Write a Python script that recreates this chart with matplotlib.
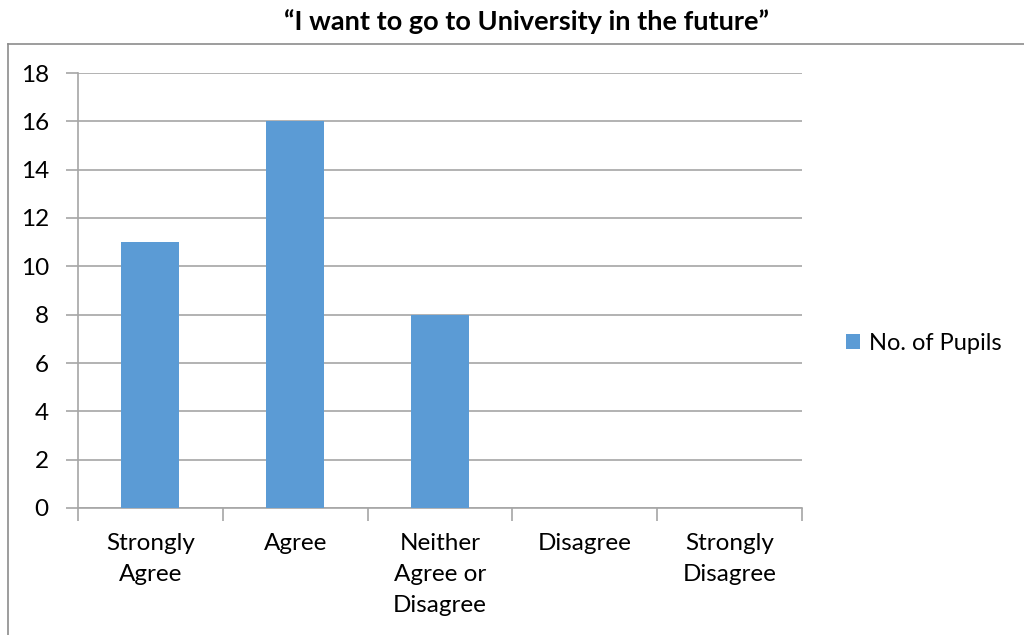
import matplotlib.pyplot as plt
from matplotlib.lines import Line2D
import numpy as np

categories = ["Strongly\nAgree", "Agree", "Neither\nAgree or\nDisagree", "Disagree", "Strongly\nDisagree"]
pupils = [11, 16, 8, 0, 0]
y_ticks = list(range(0, 19, 2))

BAR_COLOR = "#5B9BD5"
GRID_COLOR = "#A6A6A6"
FONT = "Lato"

W, H = 1024, 635
fig = plt.figure(figsize=(W / 100, H / 100), dpi=100)
fig.patch.set_facecolor("white")

# outer chart frame (only left and top edges fall inside the image)
fig.add_artist(Line2D([8 / W, 8 / W], [0, 1 - 44 / H], transform=fig.transFigure, color="#8C8C8C", lw=1.2))
fig.add_artist(Line2D([8 / W, 1], [1 - 44 / H, 1 - 44 / H], transform=fig.transFigure, color="#8C8C8C", lw=1.2))

ax = fig.add_axes([78 / W, 1 - 508 / H, (802 - 78) / W, (508 - 73) / H])
x = np.arange(len(categories))
ax.bar(x, pupils, width=0.4, color=BAR_COLOR, label="No. of Pupils", zorder=3)

ax.set_xlim(-0.5, len(categories) - 0.5)
ax.set_ylim(0, 18)
ax.set_yticks(y_ticks)
ax.set_yticklabels([str(v) for v in y_ticks], fontsize=17.5, family=FONT)
ax.yaxis.grid(True, color=GRID_COLOR, lw=1.2, zorder=0)
ax.set_axisbelow(True)

# category labels centred, ticks on the category boundaries
ax.set_xticks(x)
ax.set_xticklabels(categories, fontsize=17.5, family=FONT, linespacing=1.6, va="top")
ax.tick_params(axis="x", length=0, pad=18)
ax.set_xticks(np.arange(-0.5, len(categories)), minor=True)
ax.tick_params(axis="x", which="minor", length=9, color=GRID_COLOR, width=1.2, direction="out")
ax.tick_params(axis="y", length=9, color=GRID_COLOR, width=1.2, pad=12)

for side in ("top", "right"):
    ax.spines[side].set_visible(False)
for side in ("left", "bottom"):
    ax.spines[side].set_color(GRID_COLOR)
    ax.spines[side].set_linewidth(1.2)

fig.text(526 / W, 1 - 22 / H, "\u201cI want to go to University in the future\u201d",
         ha="center", va="center", fontsize=19.5, fontweight="bold", family=FONT)

leg = ax.legend(loc="center left", bbox_to_anchor=(1.031, 0.378), frameon=False,
                prop={"family": FONT, "size": 17}, handlelength=0.6, handleheight=0.6,
                handletextpad=0.4)

fig.savefig("out.png", dpi=100)
